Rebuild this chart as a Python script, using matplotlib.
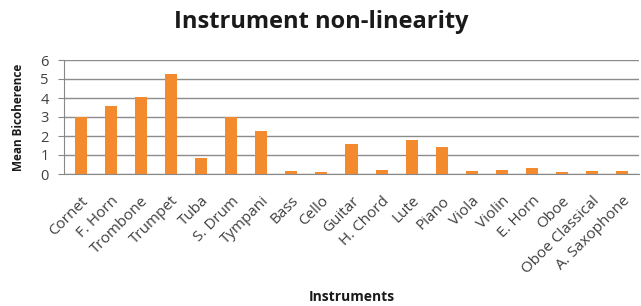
import matplotlib.pyplot as plt
import numpy as np

instruments = ["Cornet", "F. Horn", "Trombone", "Trumpet", "Tuba", "S. Drum", "Tympani",
               "Bass", "Cello", "Guitar", "H. Chord", "Lute", "Piano", "Viola", "Violin",
               "E. Horn", "Oboe", "Oboe Classical", "A. Saxophone"]
bicoherence = [3.02, 3.58, 4.07, 5.28, 0.82, 3.0, 2.28,
               0.14, 0.1, 1.58, 0.23, 1.81, 1.42, 0.18, 0.23,
               0.33, 0.1, 0.14, 0.18]
yticks = [0, 1, 2, 3, 4, 5, 6]

plt.rcParams['font.family'] = ['Open Sans', 'DejaVu Sans']

fig = plt.figure(figsize=(6.41, 3.06), dpi=100)
ax = fig.add_axes([64/641, (306-174)/306, (639-64)/641, (174-60)/306])

x = np.arange(len(instruments))
ax.bar(x, bicoherence, width=0.4, color="#F38A2E", zorder=3)

ax.set_xlim(-0.55, len(instruments) - 0.45)
ax.set_ylim(0, 6)
ax.set_yticks(yticks)
ax.set_yticklabels([str(v) for v in yticks], fontsize=10.5, color="#404040")
ax.set_xticks(x)
ax.set_xticklabels(instruments, rotation=45, ha="right", va="top",
                   rotation_mode="anchor", fontsize=11, color="#404040")
ax.tick_params(axis="x", length=0, pad=14)
ax.tick_params(axis="y", length=4, color="#888888", pad=7)

ax.grid(axis="y", color="#8C8C8C", linewidth=1, zorder=0)
for s in ["top", "right"]:
    ax.spines[s].set_visible(False)
ax.spines["left"].set_color("#888888")
ax.spines["bottom"].set_color("#888888")

fig.text(321/641, 1 - 22/306, "Instrument non-linearity", ha="center", va="center",
         fontsize=17, fontweight="bold", color="#1a1a1a")
fig.text(19/641, 1 - 117/306, "Mean Bicoherence", ha="center", va="center",
         rotation=90, fontsize=8.5, fontweight="bold", color="#1a1a1a")
fig.text(352/641, 1 - 297/306, "Instruments", ha="center", va="center",
         fontsize=10, fontweight="bold", color="#1a1a1a")

fig.savefig("out.png", dpi=100)
